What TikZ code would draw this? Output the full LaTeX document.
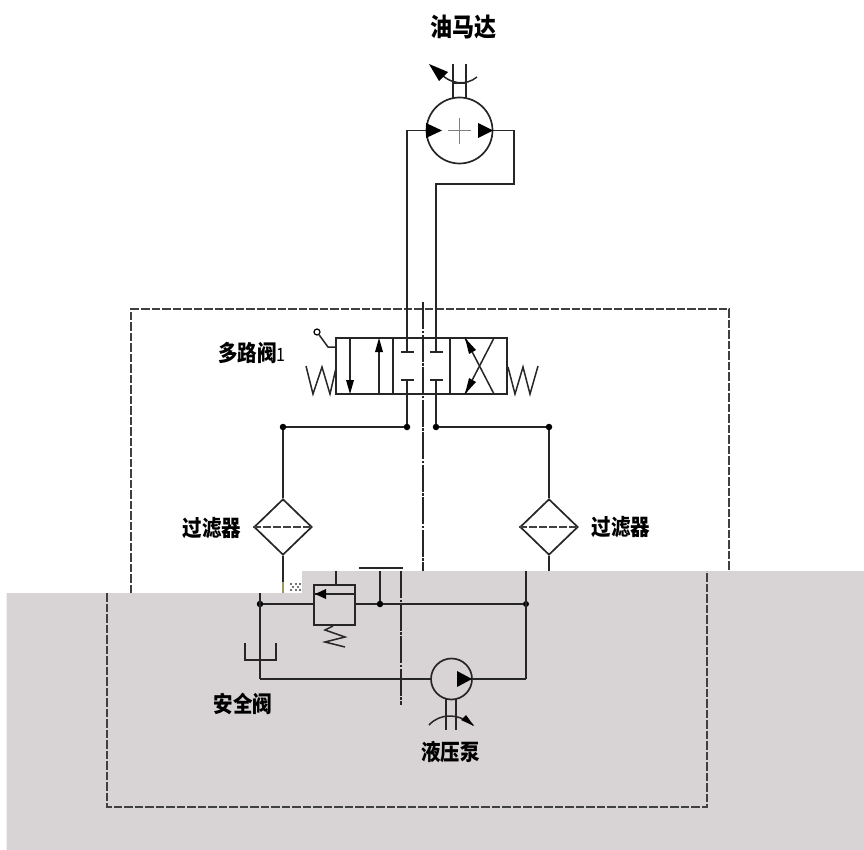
\documentclass[tikz,border=0pt]{standalone}
\usepackage{fontspec}
\newfontfamily\cjk{Noto Sans CJK SC}
\usetikzlibrary{shapes.geometric}
\definecolor{panelgray}{HTML}{D8D4D6}
\tikzset{
	pipe/.style={line width=1.8pt,black!85},
	thin pipe/.style={line width=1.5pt,black!85},
	boxline/.style={line width=1.4pt,black!75,dash pattern=on 8.5pt off 2pt},
	axis/.style={line width=1.3pt,black!85,dash pattern=on 27pt off 1.5pt on 2.5pt off 1.5pt},
	junction/.style={circle,fill=black,inner sep=0pt,minimum size=6.5pt},
	caption/.style={font=\cjk\bfseries\fontsize{19.5}{20}\selectfont,inner sep=0pt,transform shape,yscale=1.15},
	round part/.style={circle,draw,line width=1.7pt,black!85,inner sep=0pt},
	filter/.style={diamond,draw,line width=1.7pt,black!85,inner sep=0pt,minimum width=58pt,minimum height=56pt},
	cell/.style={rectangle,draw,line width=1.7pt,black!85,inner sep=0pt,minimum width=57pt,minimum height=56pt}
}
\begin{document}
\begin{tikzpicture}[x=1pt,y=-1pt]
	\useasboundingbox (0,0) rectangle (864,850);
	% grey panel
	\fill [panelgray] (6.5,850) -- (6.5,593) -- (302,593) -- (302,571) -- (864,571) -- (864,850) -- cycle;
	% dashed frames
	\draw [boxline] (131,593) -- (131,309) -- (729,309) -- (729,571);
	\draw [boxline] (107,593) -- (107,807) -- (707,807) -- (707,571);
	\draw [axis] (423,302) -- (423,571);
	\draw [axis] (401,571) -- (401,705);
	% motor
	\node [round part,minimum size=66pt] (motor) at (459.5,130.5) {};
	\node [caption,font=\cjk\bfseries\fontsize{22}{22}\selectfont] (motorlabel) at (463,27) {油马达};
	\draw [thin pipe] (453,64) -- (453,99);
	\draw [thin pipe] (466,64) -- (466,99);
	\draw [thin pipe] (453,83) -- (466,83);
	\draw [thin pipe] (477,77) .. controls (466,86) and (450,85) .. (438,71);
	\fill (429,64) -- (448,72) -- (439,81) -- cycle;
	\draw [line width=1.2pt,black!50] (448,130.5) -- (471,130.5);
	\draw [line width=1.2pt,black!50] (459.5,118) -- (459.5,144);
	\fill (426,123) -- (442,130.5) -- (426,138) -- cycle;
	\fill (478,123) -- (493,130.5) -- (478,138) -- cycle;
	% valve
	\node [cell] (valveA) at (364.5,366) {};
	\node [cell] (valveB) at (421.5,366) {};
	\node [cell] (valveC) at (478.5,366) {};
	\node [caption] (valvelabel) at (252,353) {多路阀{\mdseries\fontsize{16}{16}\selectfont 1}};
	\draw [thin pipe] (350,338) -- (350,382);
	\fill (350,394) -- (346,380) -- (354,380) -- cycle;
	\draw [thin pipe] (379,394) -- (379,350);
	\fill (379,338) -- (375,352) -- (383,352) -- cycle;
	\draw [thin pipe] (494,338) -- (465,394);
	\draw [thin pipe] (465,338) -- (494,394);
	\fill (465,338) -- (476,350) -- (469,354) -- cycle;
	\fill (465,394) -- (469,378) -- (476,382) -- cycle;
	\draw [pipe] (401,352) -- (414,352);
	\draw [pipe] (429.5,352) -- (443,352);
	\draw [pipe] (401,380) -- (414,380);
	\draw [pipe] (429.5,380) -- (443,380);
	\draw [thin pipe] (306,366) -- (313,394) -- (322,367) -- (330,394) -- (336,368);
	\draw [thin pipe] (508,367) -- (515,394) -- (523,367) -- (530,394) -- (538,366);
	\node [circle,draw,line width=1.2pt,inner sep=0pt,minimum size=6pt] (lever) at (317,332) {};
	\draw [thin pipe] (lever) -- (328,347) -- (336,347);
	% pipes to motor
	\coordinate (motorA) at (407,352);
	\coordinate (motorB) at (436,352);
	\draw [pipe] (motor.west) -- (407,130.5) -- (motorA);
	\draw [pipe] (motor.east) -- (514,130.5) -- (514,184) -- (436,184) -- (motorB);
	% filters
	\node [filter] (filterL) at (283,527) {};
	\node [filter] (filterR) at (549,527) {};
	\node [caption] (filterLlabel) at (212,528) {过滤器};
	\node [caption] (filterRlabel) at (621,527) {过滤器};
	\draw [line width=1.2pt,black!75,dash pattern=on 8pt off 2pt] (filterL.west) -- (filterL.east);
	\draw [line width=1.2pt,black!75,dash pattern=on 8pt off 2pt] (filterR.west) -- (filterR.east);
	\node [junction] (teeA) at (407,427) {};
	\node [junction] (teeB) at (436,427) {};
	\node [junction] (teeL) at (283,427) {};
	\node [junction] (teeR) at (549,427) {};
	\coordinate (filterLout) at (283,582);
	\coordinate (filterRout) at (549,571);
	\draw [pipe] (teeA) -- (407,380);
	\draw [pipe] (teeB) -- (436,380);
	\draw [pipe] (teeL) -- (teeA);
	\draw [pipe] (teeB) -- (teeR);
	\draw [pipe] (teeL) -- (filterL);
	\draw [pipe] (teeR) -- (filterR);
	\draw [pipe] (filterL) -- (filterLout);
	\draw [line width=1.8pt,black!40!yellow!60!gray] (filterLout) -- (283,593);
	\draw [pipe] (filterR) -- (filterRout);
	\foreach \px/\py in {291/584,296/584,300/584,293/587,298/587,291/590,296/590,300/590}
		\fill [black!75] (\px,\py) circle [radius=1.1];
	% relief valve
	\node [rectangle,draw,line width=1.7pt,black!85,inner sep=0pt,minimum width=41pt,minimum height=40pt] (relief) at (334.5,605) {};
	\node [caption] (relieflabel) at (243,704) {安全阀};
	\node [junction] (teeP) at (260,604) {};
	\node [junction] (teeT) at (380,604) {};
	\node [junction,minimum size=6pt] (teeQ) at (526,604) {};
	\coordinate (reliefup) at (336,571);
	\coordinate (pumpcorner) at (526,679);
	\coordinate (tankcorner) at (260,679);
	\draw [pipe] (relief.north -| reliefup) -- (reliefup);
	\draw [pipe] (314,594) -- (355,594);
	\fill (326,589) -- (315,594) -- (326,599) -- cycle;
	\draw [thin pipe] (333,626) -- (325,630) -- (345,637) -- (325,642) -- (345,647);
	\draw [pipe] (teeP) -- (relief.west |- teeP);
	\draw [pipe] (relief.east |- teeT) -- (teeT);
	\draw [pipe] (teeT) -- (teeQ);
	\draw [pipe] (teeT) -- (380,571);
	\draw [pipe] (359,568) -- (403,568);
	\draw [pipe] (526,571) -- (pumpcorner);
	\draw [pipe] (260,593) -- (tankcorner);
	\draw [pipe] (245,643) -- (245,660) -- (276,660) -- (276,643);
	% pump
	\node [round part,minimum size=41pt] (pump) at (451.5,679) {};
	\node [caption] (pumplabel) at (450.5,752) {液压泵};
	\draw [pipe] (tankcorner) -- (pump.west);
	\draw [pipe] (pump.east) -- (pumpcorner);
	\fill (457,671) -- (472,679) -- (457,687) -- cycle;
	\draw [thin pipe] (446,699) -- (446,730);
	\draw [thin pipe] (456,699) -- (456,730);
	\draw [thin pipe] (429,725) .. controls (440,713) and (458,713) .. (473,725);
	\fill (474,726) -- (466,715) -- (461,720) -- cycle;
\end{tikzpicture}
\end{document}
